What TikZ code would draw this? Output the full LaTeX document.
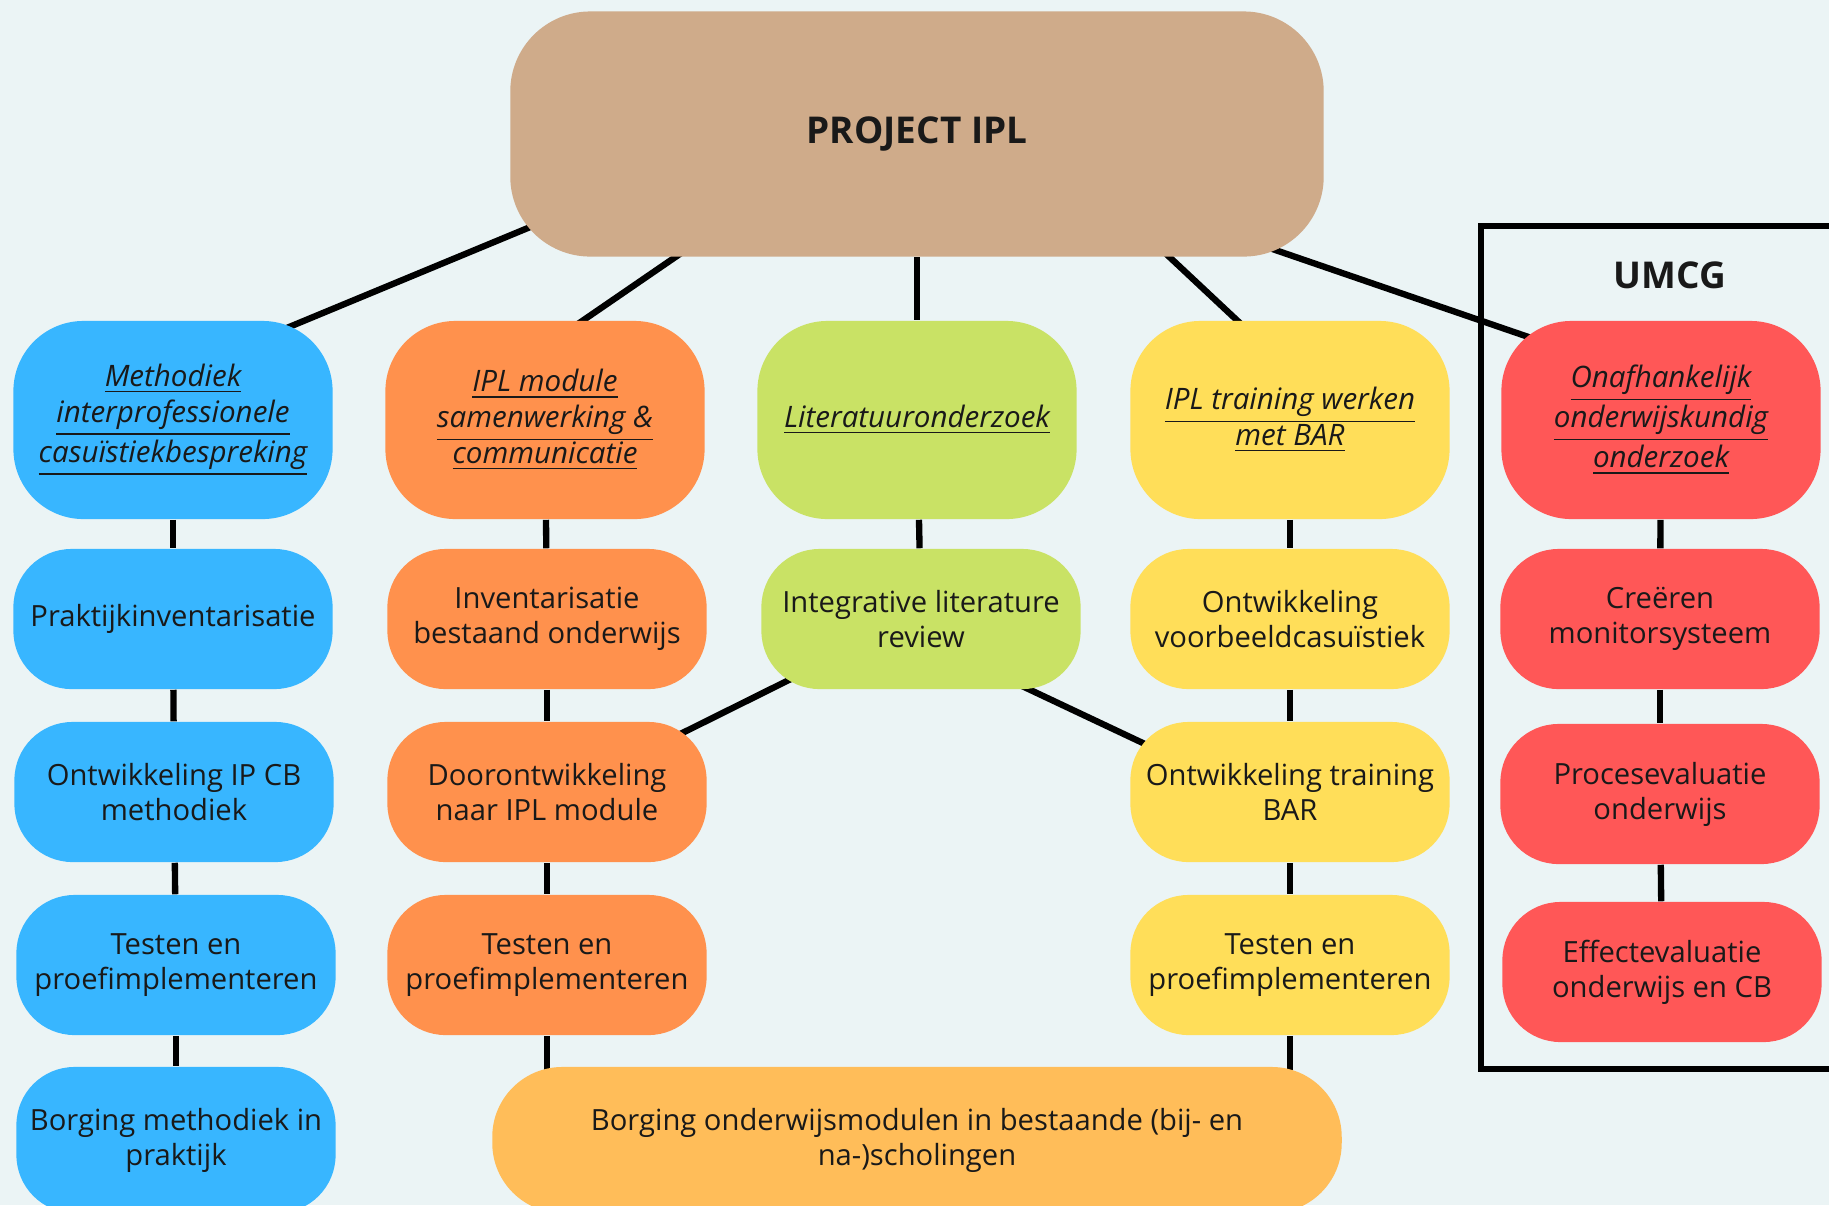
\documentclass[tikz,border=0pt]{standalone}
\usepackage{fontspec}
\setmainfont{Open Sans}
\definecolor{mist}{RGB}{235,244,245}
\definecolor{tan}{RGB}{207,171,138}
\definecolor{sky}{RGB}{56,182,255}
\definecolor{tangerine}{RGB}{255,145,77}
\definecolor{lime}{RGB}{201,226,101}
\definecolor{sun}{RGB}{255,222,89}
\definecolor{coral}{RGB}{255,87,87}
\definecolor{apricot}{RGB}{255,189,89}
\definecolor{ink}{RGB}{25,25,25}
\pgfdeclarelayer{paper}
\pgfdeclarelayer{edges}
\pgfsetlayers{paper,edges,main}
\tikzset{
    box/.style={rounded corners=0.58cm, minimum width=3.19cm, minimum height=1.4cm,
        align=center, inner sep=0pt, text=ink, font=\fontsize{8.3}{10}\selectfont},
    headbox/.style={box, rounded corners=0.7cm, minimum height=1.98cm,
        font=\fontsize{8.4}{10.2}\selectfont\itshape},
    link/.style={draw=black, line width=1.8pt},
    spoke/.style={link, shorten <=-0.6cm, shorten >=-0.6cm},
}

\begin{document}
\begin{tikzpicture}[x=0.01cm, y=-0.01cm]
\useasboundingbox (0,0) rectangle (1829,1205);
\begin{pgfonlayer}{paper}
\fill[mist] (0,0) rectangle (1829,1205);
\end{pgfonlayer}

\node[box, fill=tan, minimum width=8.13cm, minimum height=2.45cm, rounded corners=0.8cm,
    font=\fontsize{10.5}{12}\selectfont\bfseries] (ipl) at (917,134) {PROJECT IPL};

% UMCG frame
\draw[line width=1.9pt] (1481,226) rectangle (1860,1069);
\node[text=ink, font=\fontsize{10.5}{12}\selectfont\bfseries] (umcg) at (1670,275) {UMCG};

\node[headbox, fill=sky] (meth) at (173,420) {\underline{Methodiek}\\\underline{interprofessionele}\\\underline{casuïstiekbespreking}};
\node[headbox, fill=tangerine] (mod) at (545,420) {\underline{IPL module}\\\underline{samenwerking \&}\\\underline{communicatie}};
\node[headbox, fill=lime] (lit) at (917,420) {\underline{Literatuuronderzoek}};
\node[headbox, fill=sun] (bar) at (1290,420) {\underline{IPL training werken}\\\underline{met BAR}};
\node[headbox, fill=coral] (onz) at (1661,420) {\underline{Onafhankelijk}\\\underline{onderwijskundig}\\\underline{onderzoek}};

\node[box, fill=sky] (prak) at (173,619) {Praktijkinventarisatie};
\node[box, fill=tangerine] (inv) at (547,619) {Inventarisatie\\bestaand onderwijs};
\node[box, fill=lime] (ilr) at (921,619) {Integrative literature\\review};
\node[box, fill=sun] (vbc) at (1290,619) {Ontwikkeling\\voorbeeldcasuïstiek};
\node[box, fill=coral] (mon) at (1660,619) {Creëren\\monitorsysteem};

\node[box, fill=sky] (ipcb) at (174,792) {Ontwikkeling IP CB\\methodiek};
\node[box, fill=tangerine] (door) at (547,792) {Doorontwikkeling\\naar IPL module};
\node[box, fill=sun] (trn) at (1290,792) {Ontwikkeling training\\BAR};
\node[box, fill=coral] (proc) at (1660,794) {Procesevaluatie\\onderwijs};

\node[box, fill=sky] (testb) at (176,965) {Testen en\\proefimplementeren};
\node[box, fill=tangerine] (testo) at (547,965) {Testen en\\proefimplementeren};
\node[box, fill=sun] (testy) at (1290,965) {Testen en\\proefimplementeren};
\node[box, fill=coral] (eff) at (1662,972) {Effectevaluatie\\onderwijs en CB};

\node[box, fill=sky, minimum height=1.46cm] (borgb) at (176,1140) {Borging methodiek in\\praktijk};
\node[box, fill=apricot, minimum width=8.49cm, minimum height=1.46cm, rounded corners=0.7cm] (borg) at (917,1140)
    {Borging onderwijsmodulen in bestaande (bij- en\\na-)scholingen};

\begin{pgfonlayer}{edges}
\draw[spoke] (ipl.194) -- (meth.37);
\draw[spoke] (ipl.207) -- (mod.69);
\draw[link] (ipl.south) -- (lit.north);
\draw[spoke] (ipl.334) -- (bar.118);
\draw[spoke] (ipl.342) -- (onz.150);

\draw[link] (meth) -- (prak);
\draw[link] (prak) -- (ipcb);
\draw[link] (ipcb) -- (testb);
\draw[link] (testb) -- (borgb);

\draw[link] (mod) -- (inv);
\draw[link] (inv) -- (door);
\draw[link] (door) -- (testo);
\draw[link] (testo) -- (testo |- borg);

\draw[link] (lit) -- (ilr);
\draw[spoke] (ilr.205) -- (door.24);
\draw[spoke] (ilr.327) -- (trn.161);

\draw[link] (bar) -- (vbc);
\draw[link] (vbc) -- (trn);
\draw[link] (trn) -- (testy);
\draw[link] (testy) -- (testy |- borg);

\draw[link] (onz) -- (mon);
\draw[link] (mon) -- (proc);
\draw[link] (proc) -- (eff);
\end{pgfonlayer}
\end{tikzpicture}
\end{document}
